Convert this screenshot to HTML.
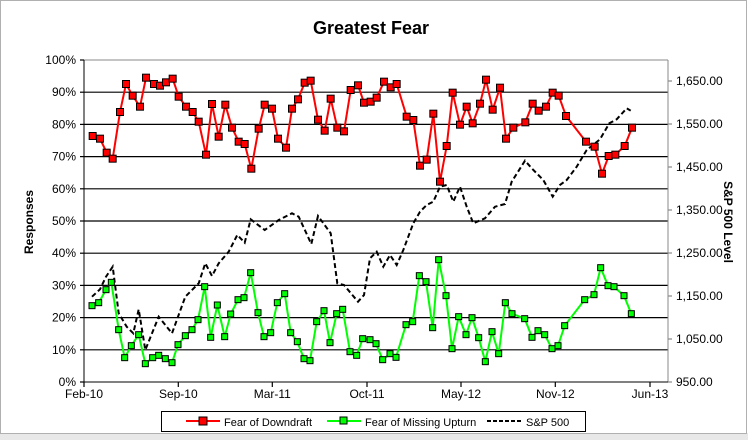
<!DOCTYPE html>
<html><head><meta charset="utf-8"><style>
body{margin:0;background:#fff;width:748px;height:440px;overflow:hidden;font-family:"Liberation Sans",sans-serif}
</style></head><body>
<svg id="s" width="748" height="440" xmlns="http://www.w3.org/2000/svg" font-family="Liberation Sans, sans-serif">
<rect x="0" y="0" width="748" height="440" fill="#fff"/>
<rect x="0" y="433" width="748" height="7" fill="#e8e8e8"/>
<rect x="0.5" y="0.5" width="746" height="433" fill="#fff" stroke="#b0b0b0"/>
<text x="371" y="34" font-size="18" font-weight="bold" text-anchor="middle">Greatest Fear</text>
<g id="grid" stroke="#000" stroke-width="1.2"></g>
<line x1="84" y1="60" x2="668" y2="60" stroke="#888"/>
<line x1="668" y1="60" x2="668" y2="382" stroke="#888"/>
<line x1="84" y1="60" x2="84" y2="382" stroke="#000"/>
<line x1="84" y1="382" x2="668" y2="382" stroke="#000"/>
<g id="lab" font-size="12"></g>
<text transform="translate(33,222) rotate(-90)" font-size="12" font-weight="bold" text-anchor="middle">Responses</text>
<text transform="translate(724,222) rotate(90)" font-size="12" font-weight="bold" text-anchor="middle">S&amp;P 500 Level</text>
<g id="data"></g>
<rect x="161.5" y="411.5" width="424" height="20" fill="#fff" stroke="#000"/>
<line x1="186" y1="421" x2="220" y2="421" stroke="#f00" stroke-width="2"/>
<rect x="199" y="417" width="8" height="8" fill="#f00" stroke="#000"/>
<text x="224" y="426" font-size="11">Fear of Downdraft</text>
<line x1="327" y1="421" x2="361" y2="421" stroke="#0f0" stroke-width="2"/>
<rect x="340" y="417" width="7" height="7" fill="#0f0" stroke="#000"/>
<text x="365" y="426" font-size="11">Fear of Missing Upturn</text>
<line x1="487" y1="421" x2="521" y2="421" stroke="#000" stroke-width="2" stroke-dasharray="4,2"/>
<text x="526" y="426" font-size="11">S&amp;P 500</text>
</svg>
<script>
var NS="http://www.w3.org/2000/svg";
function el(p,t,a,txt){var e=document.createElementNS(NS,t);for(var k in a)e.setAttribute(k,a[k]);if(txt)e.textContent=txt;p.appendChild(e);return e;}
var g=document.getElementById('grid'),lab=document.getElementById('lab'),d=document.getElementById('data');
for(var i=0;i<=10;i++){var y=382-i*32.2;if(i>0&&i<10)el(g,'line',{x1:84,y1:y,x2:668,y2:y});
el(g,'line',{x1:80,y1:y,x2:84,y2:y});
el(lab,'text',{x:76,y:y+4,'text-anchor':'end'},(i*10)+'%');}
var rl=['950.00','1,050.00','1,150.00','1,250.00','1,350.00','1,450.00','1,550.00','1,650.00'];
for(var i=0;i<8;i++){var y=382-i*43;el(g,'line',{x1:668,y1:y,x2:672,y2:y,stroke:'#888'});el(lab,'text',{x:676,y:y+4},rl[i]);}
var xs=[84,178.3,272.3,367,461,555.3,650],xl=['Feb-10','Sep-10','Mar-11','Oct-11','May-12','Nov-12','Jun-13'];
for(var i=0;i<7;i++){el(g,'line',{x1:xs[i],y1:382,x2:xs[i],y2:387});el(lab,'text',{x:xs[i],y:398,'text-anchor':'middle'},xl[i]);}
function conv(a,b,ox){var r=[];for(var i=0;i<a.length;i+=2)r.push([a[i]/3+ox,a[i+1]/3+50]);for(var i=0;i<b.length;i+=2)r.push([b[i]/3+370,b[i+1]/3+50]);return r;}
var red=conv([38,258,60,266,80,308,98,326,120,186,138,102,158,137,180,170,198,83,222,102,240,107,258,97,278,86,296,140,318,170,338,186,356,215,378,314,396,162,416,260,436,164,456,233,476,275,494,282,514,356,536,236,554,164,576,176,594,266,618,293,636,176,654,148,674,98,692,92,714,209,734,242,752,146,772,233,792,244,812,120,834,106,852,158,872,155,890,143],
[42,95,62,112,80,102,110,200,130,210,150,347,170,329,190,191,210,395,230,288,248,128,270,224,290,170,308,220,330,161,348,89,368,179,390,113,408,266,430,233,466,217,488,161,506,182,528,170,548,128,566,137,588,198,648,275,674,290,696,371,716,318,736,314,764,288,786,233],80);
var grn=conv([36,767,56,758,78,719,94,697,116,839,134,923,154,887,176,854,196,941,218,923,236,916,256,926,276,938,294,884,316,857,336,839,354,809,374,710,392,862,412,765,434,860,452,792,474,749,492,743,512,668,534,788,552,860,572,848,592,758,614,731,632,848,652,875,672,926,690,932,710,815,732,782,750,878,770,791,788,778,810,905,830,916,848,866,870,869,888,881],
[38,929,60,911,78,922,108,824,128,815,148,677,168,695,188,833,206,629,228,737,246,896,266,800,288,854,306,803,326,863,346,935,366,845,386,911,406,758,426,791,464,806,486,862,504,842,524,854,546,896,564,887,584,827,644,749,672,734,692,653,714,707,732,710,762,737,784,791],80);
var sp=conv([36,740,60,718,78,680,98,650,116,790,140,830,160,850,176,778,196,900,236,800,276,850,316,740,356,700,376,640,396,678,416,640,446,605,472,555,494,578,512,508,554,540,596,510,636,490,656,500,694,582,714,498,752,550,772,700,792,705,834,755,852,735,870,625,890,605],
[20,605,40,650,60,615,80,645,100,600,130,520,150,485,170,465,190,455,210,410,230,405,250,455,270,410,290,470,310,520,345,505,375,470,405,462,425,395,465,332,485,355,520,390,548,440,570,405,590,390,620,350,650,300,690,268,718,220,740,208,770,175,782,182],80);
function pts(a){return a.map(function(p){return p[0].toFixed(1)+','+p[1].toFixed(1)}).join(' ');}
el(d,'polyline',{points:pts(sp),fill:'none',stroke:'#000','stroke-width':2,'stroke-dasharray':'5,3'});
el(d,'polyline',{points:pts(grn),fill:'none',stroke:'#0f0','stroke-width':2});
grn.forEach(function(p){el(d,'rect',{x:p[0]-3,y:p[1]-3,width:6,height:6,fill:'#0f0',stroke:'#000','stroke-width':1});});
el(d,'polyline',{points:pts(red),fill:'none',stroke:'#f00','stroke-width':2});
red.forEach(function(p){el(d,'rect',{x:p[0]-3.5,y:p[1]-3.5,width:7,height:7,fill:'#f00',stroke:'#000','stroke-width':1});});
</script>
</body></html>
